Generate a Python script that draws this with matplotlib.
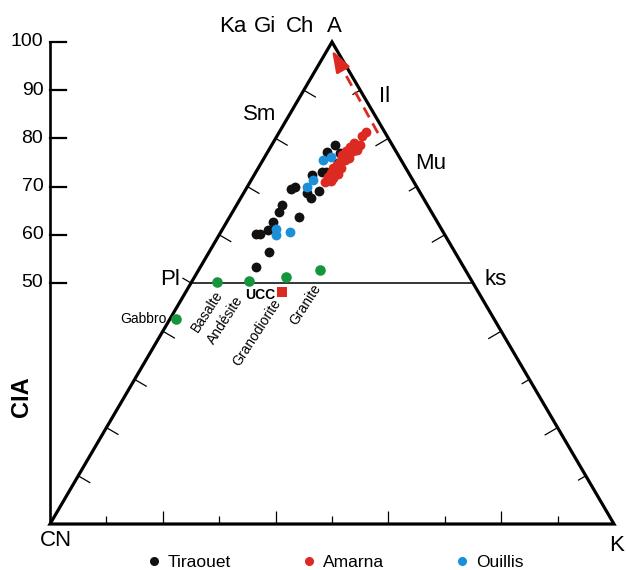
import matplotlib.pyplot as plt
from matplotlib.lines import Line2D
from matplotlib.patches import Polygon
import numpy as np

plt.rcParams['font.family'] = ['Liberation Sans', 'DejaVu Sans']

# A-CN-K molar proportions (%), CN = 100 - A - K ; A is read as CIA
tir_A = [78.6, 77.2, 77.0, 74.9, 73.0, 73.0, 72.4, 69.1, 68.7, 67.6, 69.5,
         69.9, 66.2, 64.7, 63.7, 62.7, 61.0, 60.2, 60.2, 56.4, 53.3]
tir_K = [11.2, 10.5, 12.9, 13.6, 11.7, 12.4, 10.3, 13.1, 11.2, 12.5, 8.0,
         8.4, 8.0, 8.2, 12.3, 8.2, 8.2, 6.4, 7.1, 10.6, 9.9]

ama_A = [81.3, 80.5, 78.6, 79.0, 78.2, 77.4, 76.6, 75.9, 75.5, 75.1, 74.5,
         73.9, 73.0, 72.8, 71.8, 72.0, 71.0, 71.2, 72.6, 73.9, 77.4, 77.6]
ama_K = [15.4, 15.1, 15.7, 14.4, 14.1, 13.8, 13.5, 15.1, 14.6, 13.9, 13.7,
         13.3, 14.2, 13.4, 14.3, 13.3, 13.3, 14.2, 14.8, 14.7, 15.0, 15.6]

oui_A = [75.5, 76.1, 71.4, 69.9, 61.2, 60.0, 60.6]
oui_K = [10.6, 11.8, 10.9, 10.6, 9.5, 10.1, 12.3]

rocks = ['Gabbro', 'Basalte', 'Andésite', 'Granodiorite', 'Granite']
rock_A = [42.5, 50.2, 50.4, 51.2, 52.7]
rock_K = [1.1, 4.5, 10.1, 16.2, 21.5]

ucc_A, ucc_K = 48.1, 17.1

# weathering trend arrow (start, end)
trend_A = [81.1, 98.3]
trend_K = [17.6, 0.85]

cia_ticks = [50, 60, 70, 80, 90, 100]

BLACK = '#111111'
RED = '#dc2a22'
BLUE = '#1b8fd8'
GREEN = '#16963c'


def tern(a, k):
    a = np.asarray(a, float)
    k = np.asarray(k, float)
    return k + a / 2, a


fig = plt.figure(figsize=(6.26, 5.70), dpi=100)
ax = fig.add_axes([0, 0, 1, 1])
x0, x1 = -8.87, 102.13
y0, y1 = -9.54, 108.71
ax.set_xlim(x0, x1)
ax.set_ylim(y0, y1)
ax.axis('off')

# pixels per data unit
ux = 626 / (x1 - x0)
uy = 570 / (y1 - y0)


def tick(x, y, dirx, diry, length, lw=0.9):
    # dirx/diry in screen pixels (y pointing down)
    ax.plot([x, x + dirx * length / ux], [y, y - diry * length / uy],
            color='k', lw=lw, solid_capstyle='butt')


# triangle
ax.add_patch(Polygon([[0, 0], [100, 0], [50, 100]], closed=True, fill=False,
                     lw=2.3, ec='k', joinstyle='miter', zorder=2))
ax.plot([25, 75], [50, 50], color='k', lw=1.1)

# edge ticks
edge = np.array([50 * ux, 100 * uy])
edge /= np.hypot(*edge)
for t in range(10, 100, 10):
    if t == 50:
        continue
    longer = t % 20 == 0
    tick(t / 2, t, edge[1], edge[0], 14)
    tick(100 - t / 2, t, -edge[1], edge[0], 15 if longer else 9)
for t in range(10, 100, 10):
    tick(t, 0, 0, -1, 13 if t % 20 == 0 else 8)
tick(25, 50, -edge[1], -edge[0], 10)

# CIA axis
ax.plot([0, 0], [0, 100], color='k', lw=1.9, solid_capstyle='butt')
for v in cia_ticks:
    ax.plot([0, 16 / ux], [v, v], color='k', lw=1.6)
    ax.text(-1.2, v, str(v), ha='right', va='center', fontsize=14)
ax.text(-5.0, 26.4, 'CIA', rotation=90, ha='center', va='center',
        fontsize=17, fontweight='bold')

# vertex and mineral labels
ax.text(1.1, -3.5, 'CN', ha='center', va='center', fontsize=16)
ax.text(100.4, -4.4, 'K', ha='center', va='center', fontsize=16)
ax.text(50.5, 103.3, 'A', ha='center', va='center', fontsize=16)
for name, x in zip(['Ka', 'Gi', 'Ch'], [32.4, 38.1, 44.3]):
    ax.text(x, 103.3, name, ha='center', va='center', fontsize=16)
ax.text(37.1, 84.9, 'Sm', ha='center', va='center', fontsize=16)
ax.text(21.3, 50.8, 'Pl', ha='center', va='center', fontsize=16)
ax.text(59.4, 88.6, 'Il', ha='center', va='center', fontsize=16)
ax.text(67.4, 74.7, 'Mu', ha='center', va='center', fontsize=16)
ax.text(79.1, 50.8, 'ks', ha='center', va='center', fontsize=16)

# samples
ax.scatter(*tern(tir_A, tir_K), s=50, c=BLACK, lw=0, zorder=3)
ax.scatter(*tern(oui_A, oui_K), s=50, c=BLUE, lw=0, zorder=3)
ax.scatter(*tern(ama_A, ama_K), s=50, c=RED, lw=0, zorder=4)

# reference rocks
rx, ry = tern(rock_A, rock_K)
ax.scatter(rx, ry, s=58, c=GREEN, lw=0, zorder=3)
offsets = [(-7, 0), (2.2, -7.2), (-6.5, -11.5), (-5.8, -16.6), (-1.4, -10.8)]
for name, x, y, off in zip(rocks, rx, ry, offsets):
    rot = 0 if name == 'Gabbro' else 57
    ax.annotate(name, (x, y), xytext=off, textcoords='offset points',
                rotation=rot, rotation_mode='anchor', ha='right',
                va='center', fontsize=10)

ux_, uy_ = tern(ucc_A, ucc_K)
ax.scatter([ux_], [uy_], s=45, marker='s', c=RED, lw=0, zorder=3)
ax.annotate('UCC', (ux_, uy_), xytext=(-5, -2.2), textcoords='offset points',
            ha='right', va='center', fontsize=10, fontweight='bold')

# weathering trend
tx, ty = tern(trend_A, trend_K)
frac = 0.82
mx, my = tx[0] + frac * (tx[1] - tx[0]), ty[0] + frac * (ty[1] - ty[0])
ax.plot([tx[0], mx], [ty[0], my], color=RED, lw=2.0, ls=(0, (4, 2.5)))
ax.annotate('', xy=(tx[1], ty[1]), xytext=(mx, my),
            arrowprops=dict(arrowstyle='-|>,head_length=1.3,head_width=0.45',
                            color=RED, lw=2.0, mutation_scale=10,
                            shrinkA=0, shrinkB=0))

# legend
handles = [Line2D([], [], marker='o', ls='', color=c, markersize=5.5, label=l)
           for c, l in [(BLACK, 'Tiraouet'), (RED, 'Amarna'), (BLUE, 'Ouillis')]]
fig.legend(handles=handles, loc='center left', ncol=3, frameon=False,
           bbox_to_anchor=(147 / 626, 1 - 562 / 570), fontsize=12.5,
           handlelength=0.8, handletextpad=0.4, columnspacing=4.1,
           borderpad=0, borderaxespad=0)

fig.savefig('out.png', dpi=100)
